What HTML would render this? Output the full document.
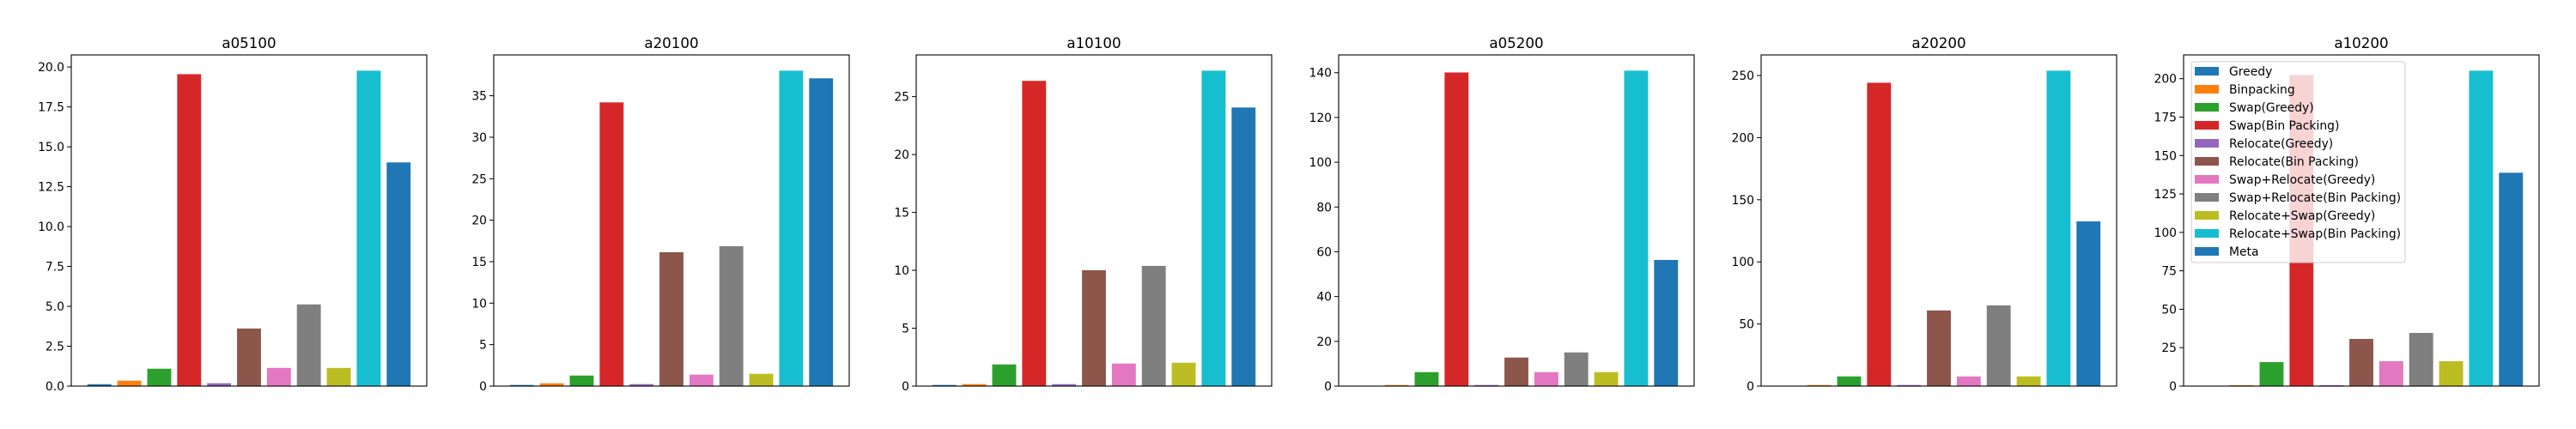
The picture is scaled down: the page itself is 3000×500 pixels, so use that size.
<!DOCTYPE html>
<html><head><meta charset="utf-8">
<style>
html,body{margin:0;padding:0;background:#fff;}
svg{display:block;font-family:"DejaVu Sans","Liberation Sans",sans-serif;}
</style></head>
<body>
<svg id="fig" width="3000" height="500" viewBox="0 0 3000 500" xmlns="http://www.w3.org/2000/svg"></svg>
<script>
const methods = ["Greedy","Binpacking","Swap(Greedy)","Swap(Bin Packing)","Relocate(Greedy)","Relocate(Bin Packing)","Swap+Relocate(Greedy)","Swap+Relocate(Bin Packing)","Relocate+Swap(Greedy)","Relocate+Swap(Bin Packing)","Meta"];
const colors = ["#1f77b4","#ff7f0e","#2ca02c","#d62728","#9467bd","#8c564b","#e377c2","#7f7f7f","#bcbd22","#17becf","#1f77b4"];
const titles = ["a05100","a20100","a10100","a05200","a20200","a10200"];
const vals_a05100 = [0.12,0.34,1.09,19.55,0.18,3.61,1.14,5.12,1.14,19.77,14.02];
const vals_a20100 = [0.14,0.34,1.27,34.2,0.24,16.14,1.38,16.86,1.48,38.02,37.1];
const vals_a10100 = [0.1,0.17,1.87,26.36,0.17,10.01,1.95,10.38,2.02,27.24,24.06];
const vals_a05200 = [0.05,0.5,6.25,140.1,0.5,12.75,6.25,15.05,6.25,140.9,56.36];
const vals_a20200 = [0.1,0.9,7.8,244.2,0.9,60.9,7.8,65.0,7.8,253.9,132.6];
const vals_a10200 = [0.1,0.6,15.6,202.4,0.6,30.7,16.2,34.6,16.2,205.2,138.8];
const ticks_a05100 = ["0.0","2.5","5.0","7.5","10.0","12.5","15.0","17.5","20.0"];
const ticks_a20100 = ["0","5","10","15","20","25","30","35"];
const ticks_a10100 = ["0","5","10","15","20","25"];
const ticks_a05200 = ["0","20","40","60","80","100","120","140"];
const ticks_a20200 = ["0","50","100","150","200","250"];
const ticks_a10200 = ["0","25","50","75","100","125","150","175","200"];
const allVals = [vals_a05100,vals_a20100,vals_a10100,vals_a05200,vals_a20200,vals_a10200];
const allTicks = [ticks_a05100,ticks_a20100,ticks_a10100,ticks_a05200,ticks_a20200,ticks_a10200];

const NS = "http://www.w3.org/2000/svg";
const svg = document.getElementById("fig");
function mk(tag, attrs, parent){const e=document.createElementNS(NS,tag);for(const k in attrs)e.setAttribute(k,attrs[k]);(parent||svg).appendChild(e);return e;}

const AX_W=414, AX_TOP=64, AX_BOT=450, PITCH=492, LEFT0=83;
allVals.forEach((vals,ci)=>{
  const L = LEFT0 + ci*PITCH, R = L + AX_W;
  const g = mk("g",{});
  
  
  const ymax = Math.max(...vals)*1.05;
  const yS = v => AX_BOT - v/ymax*(AX_BOT-AX_TOP);
  const xmin=-0.4-0.54, xmax=10.4+0.54;
  const xS = v => L + (v-xmin)/(xmax-xmin)*AX_W;
  vals.forEach((v,i)=>{
    const r = mk("rect",{x:xS(i-0.4),y:yS(v),width:xS(i+0.4)-xS(i-0.4),height:AX_BOT-yS(v),fill:colors[i]},g);
    
    
  });
  allTicks[ci].forEach(t=>{
    const y = yS(parseFloat(t));
    mk("line",{x1:L-5,x2:L,y1:y,y2:y,stroke:"#000","stroke-width":1},g);
    const tx = mk("text",{x:L-8,y:y+5,"text-anchor":"end","font-size":"13.9",fill:"#000"},g);
    tx.textContent=t;
    
    
  });
  const fr = mk("rect",{x:L,y:AX_TOP,width:AX_W,height:AX_BOT-AX_TOP,fill:"none",stroke:"#000","stroke-width":1.1},g);
  
  
  const ti = mk("text",{x:L+AX_W/2,y:56,"text-anchor":"middle","font-size":"16.7",fill:"#000"},g);
  ti.textContent = titles[ci];
  
  
});

// legend on last subplot
const lg = mk("g",{});


mk("rect",{x:2552,y:72,width:249,height:234,rx:3,fill:"rgba(255,255,255,0.8)",stroke:"#cccccc","stroke-width":1},lg);
methods.forEach((m,i)=>{
  const y = 78 + i*21;
  mk("rect",{x:2556,y:y,width:28,height:10,fill:colors[i]},lg);
  const t = mk("text",{x:2596,y:y+10,"font-size":"13.9",fill:"#000"},lg);
  t.textContent = m;
  
  
});
</script>
</body></html>
